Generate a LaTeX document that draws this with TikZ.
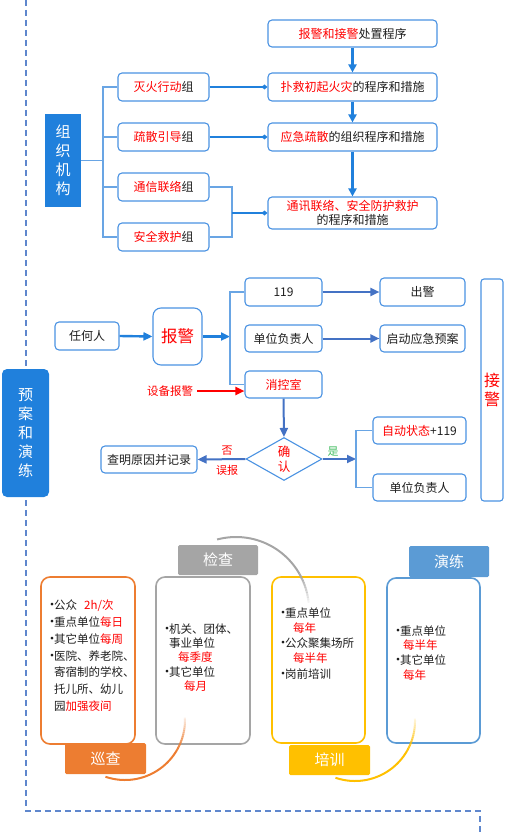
\documentclass[tikz,border=0pt]{standalone}
\usepackage{fontspec}
\setmainfont{Noto Sans CJK SC}
\usetikzlibrary{arrows.meta,shapes.geometric,calc}
\definecolor{dblue}{RGB}{32,128,220}
\definecolor{bord}{RGB}{74,146,226}
\definecolor{lblue}{RGB}{105,165,228}
\definecolor{ablue}{RGB}{68,114,196}
\definecolor{myred}{RGB}{255,0,0}
\definecolor{orng}{RGB}{237,125,49}
\definecolor{gry}{RGB}{165,165,165}
\definecolor{ylw}{RGB}{255,192,0}
\definecolor{bblue}{RGB}{91,155,213}
\definecolor{dashc}{RGB}{95,135,205}
\definecolor{grn}{RGB}{70,190,100}
\definecolor{txt}{RGB}{30,30,30}
\newcommand\rd[1]{\textcolor{myred}{#1}}
\newcommand\bul{\makebox[9pt][l]{\hspace*{0.5pt}{\fontsize{13}{13}\selectfont •}}}
\begin{document}
\begin{tikzpicture}[x=1pt,y=-1pt,
  box/.style={draw=bord, line width=1.1pt, rounded corners=4pt, fill=white, text=txt, font=\fontsize{12}{14}\selectfont, inner sep=0pt, align=center},
  darkbox/.style={fill=dblue, text=white, inner sep=0pt, align=center},
  br/.style={draw=lblue, line width=1.4pt},
  thk/.style={draw=dblue, line width=2.2pt},
  tri/.style={-{Triangle[length=8pt,width=8pt]}},
  dia/.style={-{Diamond[length=6pt,width=5pt]}},
  ar/.style={draw=ablue, line width=2pt, -{Triangle[length=9pt,width=8pt]}},
  card/.style={draw=#1, line width=1.6pt, rounded corners=9pt, fill=white, inner sep=0pt},
  lab/.style={fill=#1, rounded corners=1.5pt, text=white, font=\fontsize{15}{17}\selectfont, inner sep=0pt},
  ctext/.style={anchor=north west, inner sep=0pt, align=left, text=txt},
  hand/.style={inner sep=0pt, font=\fontsize{11}{13}\selectfont}
]
\useasboundingbox (0,0) rectangle (510,832);
% dashed frame
\coordinate (d0) at (26,0);
\coordinate (d1) at (26,811);
\coordinate (d2) at (480,811);
\coordinate (d3) at (480,832);
\draw[dashc, line width=1.5pt, dash pattern=on 6pt off 4pt] (d0) -- (d1) -- (d2) -- (d3);

% ---------- top ----------
\node[darkbox, minimum width=36pt, minimum height=93pt, font=\fontsize{15}{19}\selectfont] (org) at (63,160.5) {组\\织\\机\\构};
\node[box, minimum width=91pt, minimum height=28pt] (g1) at (163.5,87) {\rd{灭火行动}组};
\node[box, minimum width=91pt, minimum height=28pt] (g2) at (163.5,137) {\rd{疏散引导}组};
\node[box, minimum width=91pt, minimum height=28pt] (g3) at (163.5,187) {\rd{通信联络}组};
\node[box, minimum width=91pt, minimum height=28pt] (g4) at (163.5,237) {\rd{安全救护}组};
\node[box, minimum width=169pt, minimum height=27pt] (r0) at (352.5,33.5) {\rd{报警和接警}处置程序};
\node[box, minimum width=169pt, minimum height=28pt] (r1) at (352.5,87) {\rd{扑救初起火灾}的程序和措施};
\node[box, minimum width=169pt, minimum height=28pt] (r2) at (352.5,137) {\rd{应急疏散}的组织程序和措施};
\node[box, minimum width=169pt, minimum height=32pt, font=\fontsize{12}{14}\selectfont] (r3) at (352.5,213) {\rd{通讯联络、安全防护救护}\\的程序和措施};

\coordinate (bx) at (103,0);
\draw[br] (org.east) -- (org.east -| bx);
\draw[br] (g1.west) -- (g1.west -| bx) |- (g4.west);
\draw[br] (g2.west) -- (g2.west -| bx);
\draw[br] (g3.west) -- (g3.west -| bx);
\coordinate (cx3) at (232,213);
\draw[br, line width=1.2pt] (g3.east) -| (cx3) |- (g4.east);
\draw[thk, dia] (cx3) -- (r3.west);
\draw[thk, dia] (g1.east) -- (r1.west);
\draw[thk, dia] (g2.east) -- (r2.west);
\draw[thk, tri] (r0.south) -- (r1.north);
\draw[thk, tri] (r1.south) -- (r2.north);
\draw[thk, tri] (r2.south) -- (r3.north);

% ---------- middle ----------
\node[box, minimum width=64pt, minimum height=28pt] (any) at (87,336) {任何人};
\node[box, rounded corners=8pt, minimum width=49pt, minimum height=57pt, font=\fontsize{16.5}{18}\selectfont, text=myred] (bj) at (177.5,336.5) {报警};
\node[box, minimum width=77pt, minimum height=28pt] (n119) at (283.5,292) {119};
\node[box, minimum width=77pt, minimum height=27pt] (fzr) at (283.5,338.5) {单位负责人};
\node[box, minimum width=77pt, minimum height=27pt, text=myred] (xks) at (283.5,384.5) {消控室};
\node[box, minimum width=85pt, minimum height=28pt] (cj) at (422.5,292) {出警};
\node[box, minimum width=85pt, minimum height=27pt] (qd) at (422.5,338.5) {启动应急预案};
\node[box, minimum width=22pt, minimum height=222pt, rounded corners=3pt, text=myred, font=\fontsize{16}{19}\selectfont] (jj) at (492,390) {接\\警};
\node[draw=bord, line width=1.1pt, diamond, aspect=1.77, minimum width=76pt, minimum height=43pt, inner sep=0pt, fill=white, text=myred, align=center, font=\fontsize{12.5}{15.5}\selectfont] (qr) at (284,459) {确\\认};
\node[box, minimum width=93pt, minimum height=27pt] (zd) at (419.5,430.5) {\rd{自动状态}+119};
\node[box, minimum width=93pt, minimum height=27pt] (dw2) at (419.5,487.5) {单位负责人};
\node[box, minimum width=96pt, minimum height=27pt] (cm) at (149,459.5) {查明原因并记录};
\node[darkbox, rounded corners=5pt, minimum width=47pt, minimum height=128pt, font=\fontsize{15}{19}\selectfont] (ya) at (25.5,433) {预\\案\\和\\演\\练};
\node[hand, text=myred, font=\fontsize{11.5}{13}\selectfont] (sb) at (170,391) {设备报警};

\draw[ar, draw=dblue, line width=2.4pt] (any.east) -- (bj.west);
\coordinate (bk) at (230,336.5);
\draw[ar, draw=dblue, line width=2.4pt] (bj.east) -- (bk);
\draw[br, line width=1.2pt] (n119.west) -- (n119.west -| bk) -- (xks.west -| bk) -- (xks.west);
\draw[myred, line width=2pt, -{Triangle[length=9pt,width=8pt]}] ($(sb.east)+(4,0)$) -- (sb.east -| xks.west);
\draw[ar] (n119.east) -- (cj.west);
\draw[ar] (fzr.east) -- (qd.west);
\draw[ar] (xks.south) -- (qr.north);
\coordinate (sk) at (356,459);
\draw[ar] (qr.east) -- (sk);
\draw[br, line width=1.2pt] (zd.west) -- (zd.west -| sk) -- (dw2.west -| sk) -- (dw2.west);
\draw[ar] (qr.west) -- (cm.east);
\node[hand, text=myred] (fou) at (227,451) {否};
\node[hand, text=myred] (wb) at (227,470) {误报};
\node[hand, text=grn] (shi) at (333,452) {是};

% ---------- bottom ----------
\node[card=orng, minimum width=94pt, minimum height=167pt] (c1) at (88,660.5) {};
\node[card=gry, minimum width=94pt, minimum height=167pt] (c2) at (203,660.5) {};
\node[card=ylw, minimum width=93pt, minimum height=166pt] (c3) at (318.5,660) {};
\node[card=bblue, minimum width=93pt, minimum height=165pt] (c4) at (433.5,660.5) {};

\node[ctext, font=\fontsize{11.5}{16.7}\selectfont] (t1) at (45,600)
 {\bul 公众\hspace{7pt}\rd{2h/次}\\ \bul 重点单位\rd{每日}\\ \bul 其它单位\rd{每周}\\ \bul 医院、养老院、\\ \hspace*{9pt}寄宿制的学校、\\ \hspace*{9pt}托儿所、幼儿\\ \hspace*{9pt}园\rd{加强夜间}};
\node[ctext, font=\fontsize{11.5}{14.3}\selectfont] (t2) at (160,623.3)
 {\bul 机关、团体、\\ \hspace*{9pt}事业单位\\ \hspace*{18pt}\rd{每季度}\\ \bul 其它单位\\ \hspace*{24pt}\rd{每月}};
\node[ctext, font=\fontsize{11.5}{15.2}\selectfont] (t3) at (276,607.3)
 {\bul 重点单位\\ \hspace*{17pt}\rd{每年}\\ \bul 公众聚集场所\\ \hspace*{17pt}\rd{每半年}\\ \bul 岗前培训};
\node[ctext, font=\fontsize{11.5}{14.7}\selectfont] (t4) at (391,625.3)
 {\bul 重点单位\\ \hspace*{12pt}\rd{每半年}\\ \bul 其它单位\\ \hspace*{12pt}\rd{每年}};

% cycle arcs
\draw[orng, line width=2pt] plot[domain=30:109, samples=40] ({125+60*cos(\x)},{720+60*sin(\x)});
\foreach \i in {0,...,15}{
  \pgfmathsetmacro\aS{30-2*\i}
  \pgfmathsetmacro\aE{\aS-2.3}
  \pgfmathsetmacro\aO{0.95-0.055*\i}
  \draw[orng, line width=2pt, opacity=\aO] plot[domain=\aE:\aS, samples=4] ({125+60*cos(\x)},{720+60*sin(\x)});
}
\draw[gry, line width=2pt] plot[domain=-105:-30, samples=40] ({236+73*cos(\x)},{610+73*sin(\x)});
\foreach \i in {0,...,11}{
  \pgfmathsetmacro\aS{-30+2*\i}
  \pgfmathsetmacro\aE{\aS+2.3}
  \pgfmathsetmacro\aO{0.95-0.075*\i}
  \draw[gry, line width=2pt, opacity=\aO] plot[domain=\aS:\aE, samples=4] ({236+73*cos(\x)},{610+73*sin(\x)});
}
\draw[ylw, line width=2pt] plot[domain=30:109, samples=40] ({355+60*cos(\x)},{721+60*sin(\x)});
\foreach \i in {0,...,15}{
  \pgfmathsetmacro\aS{30-2*\i}
  \pgfmathsetmacro\aE{\aS-2.3}
  \pgfmathsetmacro\aO{0.95-0.055*\i}
  \draw[ylw, line width=2pt, opacity=\aO] plot[domain=\aE:\aS, samples=4] ({355+60*cos(\x)},{721+60*sin(\x)});
}

\node[lab=orng, minimum width=81pt, minimum height=31pt] (l1) at (105.5,758.5) {巡查};
\node[lab=gry, minimum width=80pt, minimum height=30pt] (l2) at (218,560) {检查};
\node[lab=ylw, minimum width=81pt, minimum height=30pt] (l3) at (329.5,760) {培训};
\node[lab=bblue, minimum width=80pt, minimum height=31pt] (l4) at (449,561.5) {演练};
\end{tikzpicture}
\end{document}
